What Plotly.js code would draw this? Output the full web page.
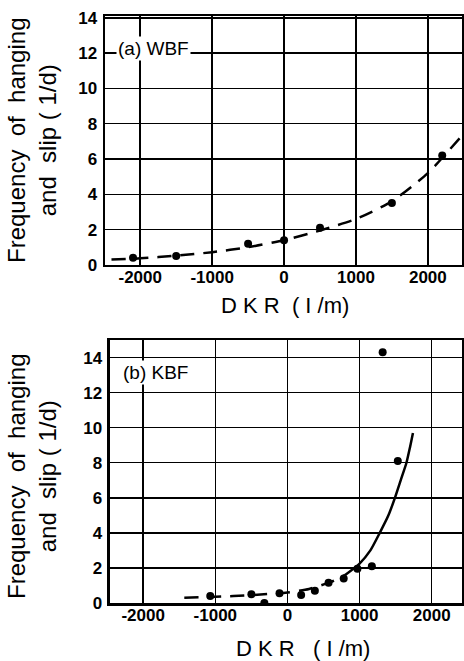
<!DOCTYPE html>
<html><head><meta charset="utf-8">
<script src="https://cdn.plot.ly/plotly-3.0.1.min.js"></script>
<style>body{margin:0;background:#fff}#c{width:464px;height:661px}</style>
</head><body><div id="c"></div>
<script>
// (a) WBF data
const wbfX = [-2100, -1500, -500, 0, 500, 1500, 2200];
const wbfY = [0.4, 0.5, 1.2, 1.4, 2.1, 3.5, 6.2];
const wbfCurveX = [-2400, -2000, -1500, -1000, -500, 0, 500, 1000, 1500, 2000, 2470];
const wbfCurveY = [0.3, 0.37, 0.52, 0.72, 1.0, 1.4, 1.95, 2.6, 3.6, 5.2, 7.3];
// (b) KBF data
const kbfX = [-1070, -500, -320, -110, 190, 380, 570, 780, 970, 1170, 1320, 1530];
const kbfY = [0.4, 0.5, 0.0, 0.55, 0.45, 0.7, 1.15, 1.4, 1.95, 2.1, 14.3, 8.1];
const kbfDashX = [-1430, -1000, -500, 0, 300, 600, 800];
const kbfDashY = [0.3, 0.35, 0.45, 0.6, 0.8, 1.2, 1.6];
const kbfSolidX = [800, 1000, 1150, 1280, 1400, 1490, 1570, 1650, 1700, 1740];
const kbfSolidY = [1.6, 2.25, 3.0, 4.0, 5.0, 6.0, 7.0, 8.0, 8.9, 9.7];
const xTicks = [-2000, -1000, 0, 1000, 2000];
const xTickText = ['-2000', '-1000', '0', '1000', '2000'];
const yTicks = [0, 2, 4, 6, 8, 10, 12, 14];

const F = 'Liberation Sans, Arial, sans-serif';
const mk = {color: '#000', size: 8};
const traces = [
  {x: wbfCurveX, y: wbfCurveY, mode: 'lines', line: {color: '#000', width: 2.5, dash: '14px,9px', shape: 'spline', smoothing: 0.6}, xaxis: 'x', yaxis: 'y'},
  {x: wbfX, y: wbfY, mode: 'markers', marker: mk, xaxis: 'x', yaxis: 'y'},
  {x: kbfDashX, y: kbfDashY, mode: 'lines', line: {color: '#000', width: 2.5, dash: '14px,9px', shape: 'spline', smoothing: 0.6}, xaxis: 'x2', yaxis: 'y2'},
  {x: kbfSolidX, y: kbfSolidY, mode: 'lines', line: {color: '#000', width: 2.5, shape: 'spline', smoothing: 0.6}, xaxis: 'x2', yaxis: 'y2'},
  {x: kbfX, y: kbfY, mode: 'markers', marker: mk, xaxis: 'x2', yaxis: 'y2'}
];
const axBase = {showline: true, linecolor: '#000', linewidth: 2.5, mirror: true, showgrid: true,
  gridcolor: '#000', gridwidth: 1.5, zeroline: false, ticks: '', ticklabelstandoff: 2,
  tickfont: {family: F, size: 17, color: '#000', weight: 'bold'}};
const layout = {
  width: 464, height: 661, showlegend: false, paper_bgcolor: '#fff', plot_bgcolor: '#fff',
  margin: {l: 105, r: 2, t: 16, b: 58},
  xaxis: Object.assign({}, axBase, {domain: [0, 1], range: [-2490, 2475], tickvals: xTicks, ticktext: xTickText, anchor: 'y', ticklabelstandoff: -5}),
  yaxis: Object.assign({}, axBase, {domain: [0.576, 1], range: [0, 14.1], tickvals: yTicks, anchor: 'x'}),
  xaxis2: Object.assign({}, axBase, {domain: [0.014, 1], range: [-2460, 2420], tickvals: xTicks, ticktext: xTickText, anchor: 'y2', ticklabelstandoff: -5}),
  yaxis2: Object.assign({}, axBase, {domain: [0, 0.448], range: [0, 15], tickvals: yTicks, anchor: 'x2'}),
  annotations: [
    {text: '(a) WBF', x: 116, y: 48, font: {family: F, size: 19, color: '#000'}, bgcolor: '#fff', xanchor: 'left'},
    {text: '(b) KBF', x: 121, y: 373, font: {family: F, size: 19, color: '#000'}, bgcolor: '#fff', xanchor: 'left'},
    {text: 'D K R  ( I /m)', x: 285, y: 305, font: {family: F, size: 22, color: '#000'}},
    {text: 'D K R   ( I /m)', x: 303, y: 648, font: {family: F, size: 22, color: '#000'}},
    {text: 'Frequency  of  hanging<br>and  slip ( 1/d)', x: 32, y: 140, textangle: -90, font: {family: F, size: 24, color: '#000'}},
    {text: 'Frequency  of  hanging<br>and  slip ( 1/d)', x: 32, y: 476, textangle: -90, font: {family: F, size: 24, color: '#000'}}
  ]
};
// convert pixel-positioned annotations to paper coords
const pw = 464 - 105 - 2, ph = 661 - 16 - 58;
layout.annotations.forEach(a => {
  a.xref = 'paper'; a.yref = 'paper'; a.showarrow = false; a.yanchor = 'middle';
  if (!a.xanchor) a.xanchor = 'center';
  a.x = (a.x - 105) / pw; a.y = (661 - 58 - a.y) / ph;
});
Plotly.newPlot('c', traces, layout, {displayModeBar: false, staticPlot: true});
</script></body></html>
